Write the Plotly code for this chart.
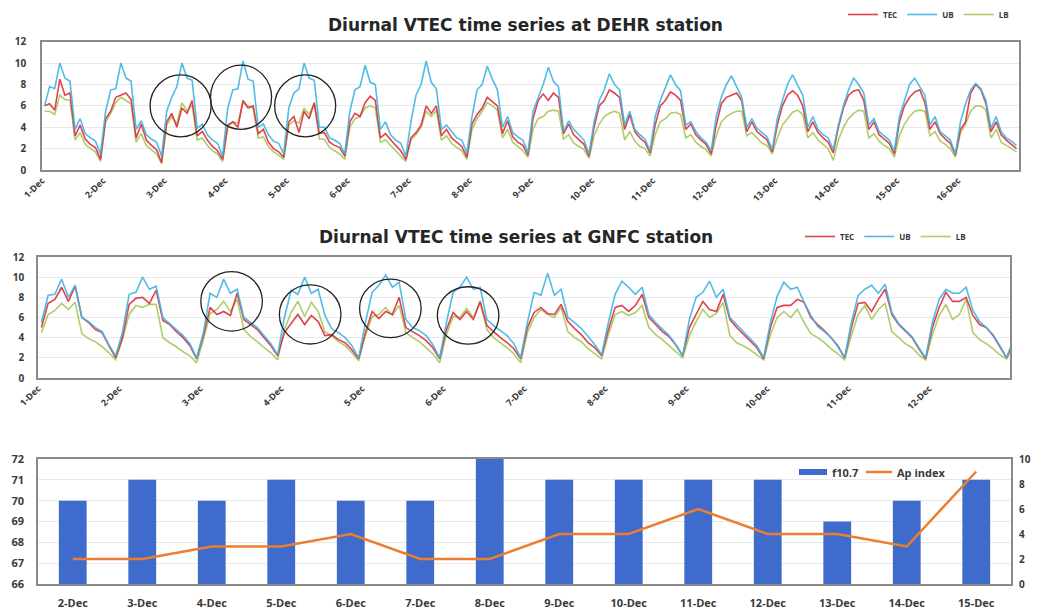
import plotly.graph_objects as go

W, H = 1039, 609
OFF = 8  # the page body adds an 8px margin; place everything relative to the visible page


def px(x):
    return (x - OFF) / W


def py(y):
    return 1 - (y - OFF) / H


# ---------------- data ----------------
HOURS = [1, 3, 5, 7, 9, 11, 13, 15, 17, 19, 21, 23]

DEHR_DAYS = ["1-Dec", "2-Dec", "3-Dec", "4-Dec", "5-Dec", "6-Dec", "7-Dec", "8-Dec",
             "9-Dec", "10-Dec", "11-Dec", "12-Dec", "13-Dec", "14-Dec", "15-Dec", "16-Dec"]

DEHR_TEC = [
    6.0, 6.2, 5.6, 8.5, 7.0, 7.2, 3.2, 4.2, 2.9, 2.4, 2.1, 1.0,
    4.8, 5.5, 6.8, 7.0, 7.2, 6.6, 3.0, 4.3, 2.8, 2.3, 1.9, 0.7,
    4.5, 5.3, 4.0, 5.8, 5.3, 6.5, 3.2, 3.6, 2.8, 2.2, 1.8, 1.0,
    4.2, 4.5, 4.0, 6.5, 5.8, 6.0, 3.4, 3.8, 2.6, 2.0, 1.7, 1.2,
    4.5, 5.0, 3.5, 5.5, 4.8, 6.3, 3.4, 3.5, 2.6, 2.3, 2.1, 1.3,
    4.5, 5.3, 5.0, 6.3, 6.9, 6.5, 3.0, 3.4, 2.8, 2.3, 1.8, 1.0,
    3.0, 3.5, 4.2, 6.0, 5.3, 6.0, 3.2, 3.8, 3.0, 2.6, 2.2, 1.2,
    4.3, 5.2, 5.8, 6.8, 6.4, 6.0, 3.4, 4.6, 3.1, 2.6, 2.3, 1.4,
    4.8, 6.5, 7.1, 6.5, 7.2, 6.8, 3.4, 4.3, 3.3, 2.8, 2.4, 1.3,
    4.0, 6.0, 6.5, 7.5, 7.2, 6.8, 3.8, 5.2, 3.6, 3.0, 2.6, 1.6,
    4.2, 6.0, 6.5, 7.3, 7.0, 6.5, 3.8, 4.3, 3.3, 2.8, 2.4, 1.5,
    4.2, 6.2, 6.8, 7.0, 7.2, 6.5, 3.6, 4.5, 3.6, 3.2, 2.8, 1.7,
    4.2, 6.0, 7.0, 7.4, 7.0, 6.0, 3.6, 4.5, 3.5, 3.0, 2.6, 1.6,
    4.0, 5.8, 7.0, 7.4, 7.5, 6.5, 3.8, 4.5, 3.3, 2.9, 2.5, 1.5,
    4.5, 6.0, 6.8, 7.3, 7.5, 6.3, 3.8, 4.5, 3.4, 2.9, 2.5, 1.4,
    3.8, 4.5, 7.2, 8.0, 7.5, 6.2, 3.6, 4.5, 3.3, 2.8, 2.4, 2.0,
]

DEHR_UB = [
    6.0, 7.8, 7.6, 10.0, 8.6, 8.3, 3.8, 4.8, 3.4, 3.0, 2.7, 1.5,
    5.5, 7.5, 7.6, 10.0, 8.6, 8.3, 3.8, 4.6, 3.3, 2.9, 2.6, 1.3,
    5.5, 6.8, 7.8, 10.0, 8.6, 8.4, 3.9, 4.3, 3.3, 2.8, 2.5, 1.3,
    5.8, 7.5, 7.6, 10.2, 8.5, 8.3, 4.0, 4.3, 3.3, 2.7, 2.5, 1.5,
    5.8, 7.2, 7.6, 10.0, 8.6, 8.4, 4.0, 4.0, 3.0, 2.8, 2.5, 1.5,
    5.5, 7.5, 7.8, 9.8, 8.2, 8.0, 3.8, 4.5, 3.3, 2.8, 2.5, 1.3,
    4.5, 7.0, 8.0, 10.2, 8.2, 7.6, 3.8, 4.2, 3.6, 3.0, 2.8, 1.6,
    5.0, 7.5, 8.0, 9.7, 8.5, 7.5, 4.0, 5.0, 3.5, 3.1, 2.8, 1.6,
    5.5, 6.8, 8.0, 9.6, 8.3, 7.8, 3.6, 4.6, 3.8, 3.3, 2.8, 1.5,
    4.5, 6.5, 7.5, 9.0, 8.0, 7.5, 4.2, 5.5, 3.8, 3.3, 2.9, 1.8,
    5.0, 6.5, 7.8, 8.9, 8.0, 7.4, 4.2, 4.5, 3.6, 3.0, 2.6, 1.8,
    5.0, 6.8, 8.0, 8.8, 7.8, 6.8, 4.0, 4.8, 3.9, 3.5, 3.1, 1.9,
    4.8, 6.5, 8.0, 8.9, 8.0, 7.0, 4.0, 5.0, 3.8, 3.3, 3.0, 1.9,
    4.2, 6.0, 7.5, 8.6, 8.0, 7.2, 4.2, 4.8, 3.6, 3.2, 2.8, 1.8,
    5.0, 6.5, 8.0, 8.6, 7.8, 7.0, 4.2, 5.0, 3.6, 3.2, 2.8, 1.5,
    4.5, 6.2, 7.5, 8.1, 7.6, 6.5, 3.9, 5.0, 3.6, 3.0, 2.7, 2.3,
]

DEHR_LB = [
    5.5, 5.5, 5.2, 7.0, 6.6, 6.5, 2.8, 3.5, 2.4, 2.0, 1.7, 0.8,
    4.5, 5.3, 6.3, 6.8, 6.5, 6.2, 2.6, 3.4, 2.3, 1.9, 1.5, 0.6,
    4.2, 5.0, 4.3, 6.3, 5.5, 6.1, 2.8, 3.0, 2.3, 1.8, 1.5, 0.8,
    4.0, 4.5, 4.4, 6.3, 6.0, 5.8, 3.0, 3.1, 2.2, 1.7, 1.4, 1.0,
    4.2, 4.6, 4.4, 5.8, 5.2, 6.2, 2.9, 2.9, 2.1, 1.8, 1.5, 1.0,
    4.0, 4.8, 5.0, 5.8, 6.0, 5.8, 2.6, 2.8, 2.3, 1.8, 1.4, 0.8,
    2.8, 3.3, 4.0, 5.5, 5.0, 5.6, 2.8, 3.2, 2.5, 2.1, 1.8, 1.0,
    3.8, 4.8, 5.5, 6.3, 6.0, 5.6, 3.0, 3.8, 2.6, 2.2, 1.8, 1.2,
    3.8, 4.8, 5.0, 5.5, 5.6, 5.5, 2.9, 3.3, 2.5, 2.2, 1.9, 1.1,
    3.2, 4.3, 5.0, 5.3, 5.5, 5.3, 2.8, 3.6, 2.7, 2.2, 2.0, 1.3,
    3.3, 4.5, 4.8, 5.3, 5.4, 5.2, 3.0, 3.3, 2.6, 2.2, 1.9, 1.3,
    3.2, 4.5, 5.0, 5.3, 5.5, 5.5, 3.2, 3.5, 3.0, 2.5, 2.3, 1.5,
    3.0, 4.2, 4.8, 5.4, 5.6, 5.2, 3.0, 3.5, 2.8, 2.4, 2.0, 0.9,
    2.8, 4.0, 4.8, 5.3, 5.6, 5.5, 3.0, 3.4, 2.7, 2.3, 2.0, 1.2,
    3.2, 4.3, 5.0, 5.5, 5.6, 5.5, 3.2, 3.6, 2.7, 2.4, 2.0, 1.2,
    3.5, 4.3, 5.5, 6.0, 6.0, 5.6, 3.0, 3.8, 2.6, 2.3, 2.0, 1.7,
]

GNFC_DAYS = ["1-Dec", "2-Dec", "3-Dec", "4-Dec", "5-Dec", "6-Dec", "7-Dec", "8-Dec",
             "9-Dec", "10-Dec", "11-Dec", "12-Dec"]

GNFC_TEC = [
    5.0, 7.4, 7.8, 9.0, 7.6, 9.1, 6.0, 5.5, 4.8, 4.5, 3.2, 2.0,
    4.0, 7.3, 7.9, 8.0, 7.4, 8.7, 5.7, 5.3, 4.6, 4.0, 3.2, 1.9,
    4.2, 7.0, 6.3, 6.6, 6.2, 8.4, 5.8, 5.3, 4.8, 4.0, 3.2, 2.2,
    4.5, 5.4, 6.3, 5.3, 6.2, 5.6, 4.2, 4.3, 3.8, 3.5, 2.8, 1.9,
    4.5, 6.6, 5.9, 6.6, 6.3, 8.0, 5.0, 4.6, 4.2, 3.7, 3.0, 1.9,
    4.8, 6.5, 5.8, 6.6, 5.8, 7.6, 5.2, 4.6, 4.0, 3.5, 2.9, 1.9,
    5.0, 6.5, 7.0, 6.4, 6.3, 7.3, 5.6, 4.9, 4.3, 3.5, 3.0, 2.2,
    4.8, 7.0, 7.2, 6.6, 7.2, 8.3, 6.0, 5.3, 4.6, 4.1, 3.3, 2.2,
    5.0, 6.3, 7.6, 6.8, 6.6, 8.3, 5.8, 5.0, 4.3, 3.7, 3.0, 1.9,
    5.0, 7.0, 7.2, 7.2, 7.8, 7.5, 6.0, 5.3, 4.7, 4.0, 3.2, 2.0,
    5.0, 7.4, 7.5, 6.6, 7.8, 8.8, 6.3, 5.3, 4.6, 4.0, 2.9, 1.9,
    5.0, 7.0, 8.5, 7.6, 7.6, 8.0, 6.2, 5.3, 5.0, 4.2, 3.1, 2.0,
    3.6,
]

GNFC_UB = [
    5.5, 8.2, 8.3, 9.8, 8.0, 9.2, 6.0, 5.6, 5.0, 4.6, 3.3, 2.2,
    4.5, 8.3, 8.5, 10.0, 8.8, 9.1, 6.0, 5.4, 4.8, 4.2, 3.4, 2.0,
    4.5, 8.4, 8.0, 9.8, 8.4, 8.8, 6.0, 5.5, 5.0, 4.2, 3.4, 2.3,
    6.0, 8.7, 8.3, 10.0, 8.4, 8.8, 6.2, 4.9, 4.5, 4.0, 3.2, 2.0,
    5.5, 8.5, 9.2, 10.2, 9.0, 9.5, 5.8, 5.0, 4.7, 4.2, 3.3, 2.0,
    5.5, 8.5, 9.0, 10.0, 8.8, 9.0, 5.8, 5.2, 4.7, 4.2, 3.4, 2.0,
    5.5, 8.5, 8.2, 10.4, 8.2, 8.8, 6.0, 5.5, 4.9, 4.1, 3.3, 2.3,
    5.5, 8.3, 9.6, 9.0, 8.3, 9.0, 6.3, 5.5, 4.8, 4.2, 3.3, 2.2,
    5.8, 8.0, 8.5, 9.6, 8.0, 8.8, 6.0, 5.3, 4.5, 3.9, 3.2, 2.0,
    5.5, 8.1, 9.5, 8.8, 9.0, 7.5, 6.2, 5.1, 4.6, 4.0, 3.1, 2.0,
    5.5, 8.2, 8.8, 9.2, 8.4, 9.3, 6.5, 5.4, 4.7, 4.1, 3.0, 2.0,
    5.5, 7.8, 8.8, 8.4, 8.4, 9.0, 6.7, 5.6, 5.0, 4.3, 3.2, 2.0,
    3.8,
]

GNFC_LB = [
    4.5, 6.3, 6.7, 7.4, 6.8, 7.5, 4.4, 3.9, 3.6, 3.1, 2.5, 1.8,
    3.8, 6.3, 7.2, 7.0, 7.3, 7.3, 4.0, 3.5, 3.1, 2.6, 2.2, 1.5,
    3.8, 6.4, 6.8, 7.6, 6.6, 7.8, 4.8, 4.1, 3.6, 3.0, 2.5, 1.8,
    4.8, 6.5, 7.6, 6.1, 7.5, 6.6, 4.6, 4.2, 3.6, 3.2, 2.5, 1.7,
    4.2, 6.1, 6.3, 7.0, 6.2, 7.2, 4.5, 4.0, 3.6, 3.0, 2.4, 1.5,
    4.3, 6.1, 6.0, 6.9, 6.0, 7.5, 4.8, 4.0, 3.5, 3.0, 2.4, 1.5,
    4.5, 6.0, 6.8, 6.3, 6.0, 7.0, 4.6, 4.0, 3.6, 2.9, 2.4, 1.9,
    4.3, 6.3, 6.6, 6.2, 6.5, 7.2, 5.0, 4.3, 3.8, 3.2, 2.6, 2.0,
    4.2, 5.6, 6.8, 6.0, 6.4, 7.5, 4.2, 3.5, 3.2, 2.8, 2.3, 1.8,
    4.3, 6.0, 6.6, 6.0, 6.8, 5.5, 4.4, 4.0, 3.5, 2.9, 2.4, 1.8,
    4.2, 6.3, 7.2, 5.8, 6.8, 7.4, 4.6, 4.0, 3.4, 3.0, 2.3, 1.8,
    4.3, 6.2, 7.3, 5.8, 6.3, 7.8, 4.5, 3.8, 3.4, 2.9, 2.3, 1.9,
    3.3,
]

BAR_DAYS = ["2-Dec", "3-Dec", "4-Dec", "5-Dec", "6-Dec", "7-Dec", "8-Dec",
            "9-Dec", "10-Dec", "11-Dec", "12-Dec", "13-Dec", "14-Dec", "15-Dec"]
F107 = [70, 71, 70, 71, 70, 70, 72, 71, 71, 71, 71, 69, 70, 71]
AP_INDEX = [2, 2, 3, 3, 4, 2, 2, 4, 4, 6, 4, 4, 3, 9]

# highlighted periods (day offset, value, half-width in days, half-height in TEC units)
DEHR_CIRCLES = [(2.27, 6.0, 0.5, 2.9), (3.26, 6.8, 0.5, 3.0), (4.31, 6.0, 0.5, 2.9)]
GNFC_CIRCLES = [(2.39, 7.6, 0.38, 2.95), (3.36, 6.3, 0.38, 2.93),
                (4.35, 6.9, 0.38, 2.9), (5.31, 6.2, 0.38, 2.85)]


# ---------------- x positions (days since 1-Dec) ----------------
def times(ndays, nvals):
    t = [d + h / 24 for d in range(ndays) for h in HOURS]
    d = ndays
    while len(t) < nvals:
        t.append(d + HOURS[0] / 24)
        d += 1
    return t


x_dehr = times(len(DEHR_DAYS), len(DEHR_TEC))
x_gnfc = times(len(GNFC_DAYS), len(GNFC_TEC))

C_TEC = "#dc2f3c"
C_UB = "#3fb5e4"
C_LB = "#a9c85a"
C_BAR = "#3e6bcc"
C_AP = "#ed7d31"
TXT = "#3a3a3a"
FONT = "Open Sans"
TFONT = "DejaVu Sans"

fig = go.Figure()

for xs, tec, ub, lb, xa, ya, lg in [
    (x_dehr, DEHR_TEC, DEHR_UB, DEHR_LB, "x", "y", "legend"),
    (x_gnfc, GNFC_TEC, GNFC_UB, GNFC_LB, "x2", "y2", "legend2"),
]:
    for name, vals, col in [("LB", lb, C_LB), ("TEC", tec, C_TEC), ("UB", ub, C_UB)]:
        fig.add_trace(go.Scatter(
            x=xs, y=vals, name=name, mode="lines",
            line=dict(color=col, width=1.6), opacity=0.9,
            xaxis=xa, yaxis=ya, legend=lg,
            legendrank={"TEC": 1, "UB": 2, "LB": 3}[name],
        ))

fig.add_trace(go.Bar(
    x=BAR_DAYS, y=F107, name="f10.7", marker=dict(color=C_BAR, line=dict(width=0)),
    xaxis="x3", yaxis="y3", showlegend=False,
))
fig.add_trace(go.Scatter(
    x=BAR_DAYS, y=AP_INDEX, name="Ap index", mode="lines",
    line=dict(color=C_AP, width=2.5),
    xaxis="x3", yaxis="y4", showlegend=False,
))

tickf = dict(family=FONT, size=9, color=TXT, weight="bold")
ytickf = dict(family=FONT, size=10, color=TXT, weight="bold")
btickf = dict(family=FONT, size=11, color=TXT, weight="bold")
frame = dict(showline=True, mirror=True, linecolor="#8a8a8a", linewidth=1.5, zeroline=False)
legfont = dict(family=FONT, size=8, color=TXT, weight="bold")

fig.update_layout(
    width=W, height=H,
    margin=dict(l=0, r=0, t=0, b=0, autoexpand=False),
    paper_bgcolor="white", plot_bgcolor="white",
    font=dict(family=FONT, color=TXT),
    bargap=0.6,
    xaxis=dict(domain=[px(42), px(1019)], anchor="y", range=[0, 16],
               tickmode="array", tickvals=list(range(len(DEHR_DAYS))), ticktext=DEHR_DAYS,
               tickangle=-45, tickfont=tickf, showgrid=False, ticks="", **frame),
    yaxis=dict(domain=[py(170), py(41.7)], anchor="x", range=[0, 12], dtick=2,
               tickfont=ytickf, gridcolor="#e8e8e8", ticklabelstandoff=12, **frame),
    xaxis2=dict(domain=[px(38), px(1010)], anchor="y2", range=[0, 12],
                tickmode="array", tickvals=list(range(len(GNFC_DAYS))), ticktext=GNFC_DAYS,
                tickangle=-45, tickfont=tickf, showgrid=False, ticks="", **frame),
    yaxis2=dict(domain=[py(378), py(257)], anchor="x2", range=[0, 12], dtick=2,
                tickfont=ytickf, gridcolor="#e8e8e8", ticklabelstandoff=10, **frame),
    xaxis3=dict(domain=[px(38), px(1011)], anchor="y3", type="category",
                tickfont=btickf, showgrid=False, ticks="", ticklabelstandoff=8, **frame),
    yaxis3=dict(domain=[py(584), py(459)], anchor="x3", range=[66, 72], dtick=1,
                tickfont=btickf, gridcolor="#e8e8e8", ticklabelstandoff=10, **frame),
    yaxis4=dict(overlaying="y3", anchor="x3", side="right", range=[0, 10], dtick=2,
                tickfont=dict(family=FONT, size=10, color=TXT, weight="bold"),
                showgrid=False, showline=False, zeroline=False,
                ticklabelstandoff=7),
    legend=dict(x=px(843), y=py(0), xanchor="left", yanchor="top", orientation="h",
                font=legfont, bgcolor="rgba(0,0,0,0)", itemwidth=30, traceorder="normal"),
    legend2=dict(x=px(800), y=py(222), xanchor="left", yanchor="top", orientation="h",
                 font=legfont, bgcolor="rgba(0,0,0,0)", itemwidth=30, traceorder="normal"),
)

# titles
fig.add_annotation(x=px(525), y=py(25), xref="paper", yref="paper", showarrow=False,
                   xanchor="center", yanchor="middle",
                   text="<b>Diurnal VTEC time series at DEHR station</b>",
                   font=dict(family=TFONT, size=17, color="#262626"))
fig.add_annotation(x=px(516), y=py(237), xref="paper", yref="paper", showarrow=False,
                   xanchor="center", yanchor="middle",
                   text="<b>Diurnal VTEC time series at GNFC station</b>",
                   font=dict(family=TFONT, size=17, color="#262626"))

# circles
for (cx, cy, rx, ry) in DEHR_CIRCLES:
    fig.add_shape(type="circle", xref="x", yref="y", x0=cx - rx, x1=cx + rx,
                  y0=cy - ry, y1=cy + ry, line=dict(color="#222222", width=1.3))
for (cx, cy, rx, ry) in GNFC_CIRCLES:
    fig.add_shape(type="circle", xref="x2", yref="y2", x0=cx - rx, x1=cx + rx,
                  y0=cy - ry, y1=cy + ry, line=dict(color="#222222", width=1.3))

# bottom legend (drawn manually)
fig.add_shape(type="rect", xref="paper", yref="paper", x0=px(799), x1=px(827),
              y0=py(475), y1=py(469), fillcolor=C_BAR, line=dict(width=0))
fig.add_annotation(x=px(830), y=py(472), xref="paper", yref="paper", showarrow=False,
                   xanchor="left", yanchor="middle", text="f10.7",
                   font=dict(family=FONT, size=11, color=TXT, weight="bold"))
fig.add_shape(type="line", xref="paper", yref="paper", x0=px(866), x1=px(892),
              y0=py(472), y1=py(472), line=dict(color=C_AP, width=2.5))
fig.add_annotation(x=px(895), y=py(472), xref="paper", yref="paper", showarrow=False,
                   xanchor="left", yanchor="middle", text="Ap index",
                   font=dict(family=FONT, size=11, color=TXT, weight="bold"))

fig.write_html("out.html")
